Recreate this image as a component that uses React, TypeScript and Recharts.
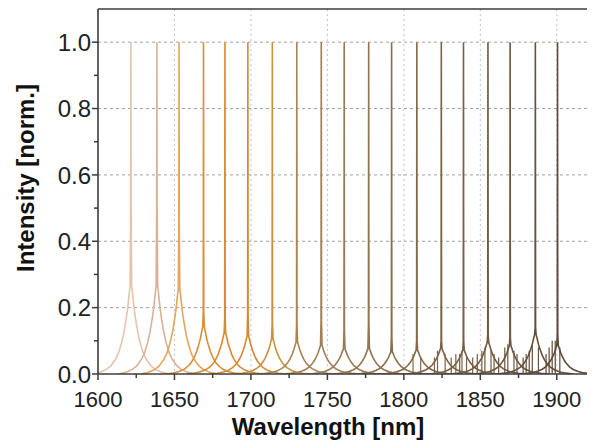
import { CartesianGrid, Line, LineChart, ReferenceLine, XAxis, YAxis } from 'recharts'

// peak positions (nm), read from the spike tops
const PEAK_CENTERS = [
  1621.5, 1638.5, 1653, 1669, 1683, 1698, 1714, 1730, 1746, 1761,
  1777, 1792, 1808.5, 1824.5, 1839, 1855, 1869.5, 1886, 1900.5
]
const PEAK_COLORS = [
  '#e6c3aa', '#dbb097', '#e6a45c', '#dc8d33', '#d98a2e', '#d38a35', '#c8923e', '#ad8552', '#a27f54', '#9a7953',
  '#92744f', '#8b6e4b', '#856949', '#7e6446', '#786043', '#725a40', '#6c553d', '#66513b', '#5e4a36'
]
// height of the broad base under each spike, and of the narrow shoulder on the spike
const BASE_TOP = [
  0.28, 0.28, 0.27, 0.15, 0.13, 0.12, 0.11, 0.1, 0.09, 0.08,
  0.08, 0.07, 0.075, 0.08, 0.075, 0.1, 0.09, 0.125, 0.09
]
const SHOULDER = [
  0.5, 0.5, 0.45, 0.19, 0.17, 0.18, 0.15, 0.15, 0.16, 0.13,
  0.15, 0.11, 0.1, 0.1, 0.1, 0.12, 0.11, 0.14, 0.12
]
// relative shape of the base, distance from centre in nm
const BASE_OFFSETS = [25, 20, 16, 13, 10, 8, 6, 4.5, 3, 2, 1, 0.5]
const BASE_SHAPE = [0, 0.02, 0.05, 0.09, 0.16, 0.23, 0.34, 0.45, 0.6, 0.72, 0.88, 0.95]
const SPIKE_HALF_WIDTH = 0.15

// small side lines around the long-wavelength peaks
const SIDE_LINE_NM = [
  1806, 1811, 1820, 1822, 1827, 1831, 1834, 1836.5, 1838, 1841, 1845, 1848, 1851, 1853, 1857, 1859,
  1862, 1866, 1868, 1872, 1874, 1878, 1880, 1882, 1884, 1888, 1893, 1895, 1897, 1899, 1902
]
const SIDE_LINE_HEIGHT = [
  0.06, 0.05, 0.05, 0.07, 0.06, 0.05, 0.06, 0.06, 0.07, 0.05, 0.05, 0.06, 0.07, 0.08, 0.07, 0.06,
  0.05, 0.08, 0.09, 0.07, 0.06, 0.05, 0.06, 0.07, 0.09, 0.08, 0.06, 0.08, 0.1, 0.1, 0.08
]
const SIDE_LINE_PEAK = [
  12, 12, 13, 13, 13, 13, 14, 14, 14, 14, 14, 15, 15, 15, 15, 15,
  16, 16, 16, 16, 16, 17, 17, 17, 17, 17, 18, 18, 18, 18, 18
]

const X_TICKS = [1600, 1625, 1650, 1675, 1700, 1725, 1750, 1775, 1800, 1825, 1850, 1875, 1900]
const X_LABELS = [1600, 1650, 1700, 1750, 1800, 1850, 1900]
const Y_TICKS = [0, 0.1, 0.2, 0.3, 0.4, 0.5, 0.6, 0.7, 0.8, 0.9, 1.0]
const Y_LABELS = [0, 0.2, 0.4, 0.6, 0.8, 1.0]
const GRID_X = [1650, 1700, 1750, 1800, 1850, 1900]
const GRID_Y = [0.2, 0.4, 0.6, 0.8, 1.0]

const AXIS = '#3c3c3c'
const FONT = '"Liberation Sans", Arial, sans-serif'

type Pt = { x: number; y: number }

function peakSeries(i: number): Pt[] {
  const c = PEAK_CENTERS[i]
  const left = BASE_OFFSETS.map((o, k) => ({ x: c - o, y: BASE_TOP[i] * BASE_SHAPE[k] }))
  const right = [...left].reverse().map((p) => ({ x: 2 * c - p.x, y: p.y }))
  return [
    ...left,
    { x: c - SPIKE_HALF_WIDTH, y: SHOULDER[i] },
    { x: c, y: 1 },
    { x: c + SPIKE_HALF_WIDTH, y: SHOULDER[i] },
    ...right
  ]
}

const isIn = (list: number[], v: number) => list.some((l) => Math.abs(l - v) < 1e-6)

function YTick(props: any) {
  const { x, y, payload } = props
  const major = isIn(Y_LABELS, payload.value)
  return (
    <g>
      <line x1={x} x2={x - (major ? 6 : 4)} y1={y} y2={y} stroke={AXIS} strokeWidth={1.5} />
      {major && (
        <text x={x - 7} y={y} dy="0.36em" textAnchor="end" fontSize={24} fontFamily={FONT} fill="#222">
          {Number(payload.value).toFixed(1)}
        </text>
      )}
    </g>
  )
}

function XTick(props: any) {
  const { x, y, payload } = props
  const major = isIn(X_LABELS, payload.value)
  return (
    <g>
      <line x1={x} x2={x} y1={y} y2={y + (major ? 6 : 4)} stroke={AXIS} strokeWidth={1.5} />
      {major && (
        <text x={x} y={y + 33} textAnchor="middle" fontSize={22} fontFamily={FONT} fill="#222">
          {payload.value}
        </text>
      )}
    </g>
  )
}

function AxisTitle(props: any) {
  const { tx, ty, rotate, text } = props
  return (
    <text
      x={tx}
      y={ty}
      textAnchor="middle"
      fontSize={24}
      fontWeight="bold"
      fontFamily={FONT}
      fill="#111"
      transform={rotate ? `rotate(-90 ${tx} ${ty})` : undefined}
    >
      {text}
    </text>
  )
}

export default function App() {
  return (
    <div style={{ width: 587, height: 433 }}>
      <LineChart width={587} height={433} margin={{ top: 1, right: 0, bottom: 0, left: 0 }}>
        <CartesianGrid horizontal={false} verticalValues={GRID_X} stroke="#c4c4c4" strokeDasharray="2 3" />
        <CartesianGrid vertical={false} horizontalValues={GRID_Y} stroke="#a0a0a0" strokeDasharray="3 3" />
        <XAxis
          dataKey="x"
          type="number"
          domain={[1600, 1925]}
          allowDataOverflow
          ticks={X_TICKS}
          interval={0}
          height={67}
          tickSize={0}
          tickMargin={0}
          tickLine={false}
          tick={<XTick />}
          axisLine={{ stroke: AXIS, strokeWidth: 1.6 }}
          label={<AxisTitle tx={320} ty={427} text="Wavelength [nm]" />}
        />
        <YAxis
          type="number"
          domain={[0, 1.1]}
          allowDataOverflow
          ticks={Y_TICKS}
          interval={0}
          width={90}
          tickSize={0}
          tickMargin={0}
          tickLine={false}
          tick={<YTick />}
          axisLine={{ stroke: AXIS, strokeWidth: 1.6 }}
          label={<AxisTitle tx={26} ty={170} rotate text="Intensity [norm.]" />}
        />
        <ReferenceLine y={1.1} stroke={AXIS} strokeWidth={1.6} />
        {PEAK_CENTERS.map((_, i) => (
          <Line
            key={`peak-${i}`}
            data={peakSeries(i)}
            dataKey="y"
            type="linear"
            dot={false}
            stroke={PEAK_COLORS[i]}
            strokeWidth={1.6}
            isAnimationActive={false}
          />
        ))}
        {SIDE_LINE_NM.map((nm, k) => (
          <Line
            key={`side-${k}`}
            data={[
              { x: nm, y: 0 },
              { x: nm, y: SIDE_LINE_HEIGHT[k] }
            ]}
            dataKey="y"
            type="linear"
            dot={false}
            stroke={PEAK_COLORS[SIDE_LINE_PEAK[k]]}
            strokeWidth={1.2}
            isAnimationActive={false}
          />
        ))}
      </LineChart>
    </div>
  )
}
